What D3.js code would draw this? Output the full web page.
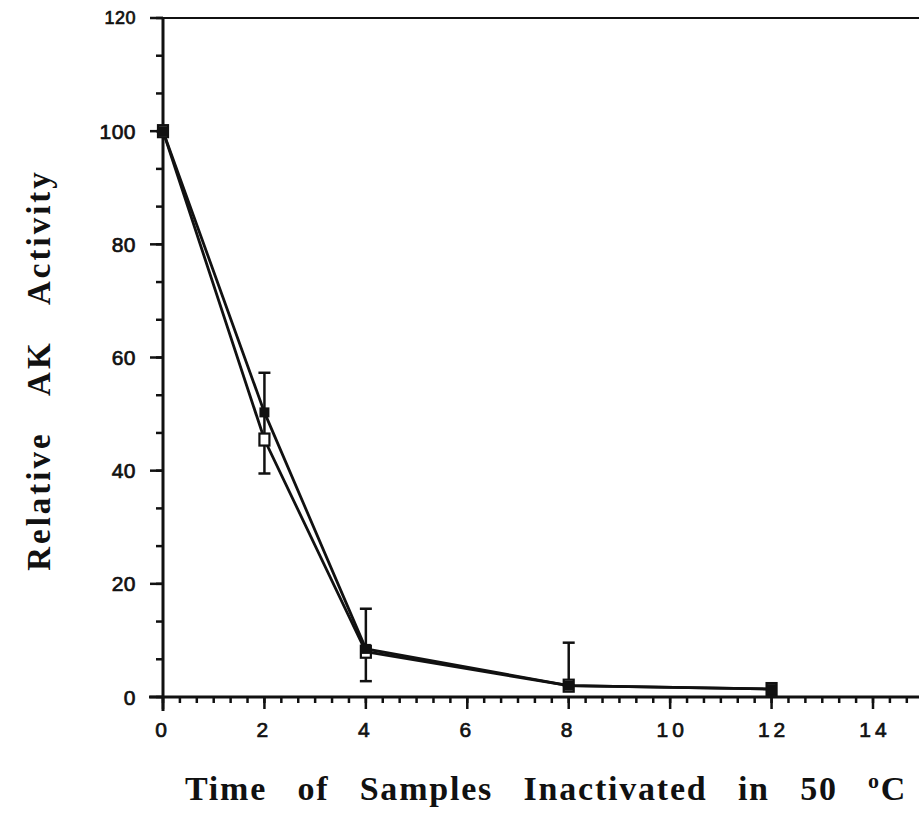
<!DOCTYPE html>
<html>
<head>
<meta charset="utf-8">
<script src="https://cdn.jsdelivr.net/npm/d3@7"></script>
<style>
  body { margin: 0; background: #fff; }
  svg { display: block; }
</style>
</head>
<body>
<div id="chart"></div>
<script>

// data
var times = [0, 2, 4, 8, 12];
var filledSeries = [100, 50.3, 8.5, 2, 1.4];
var openSeries = [100, 45.5, 8, 2, 1.4];

var errTimes = [2, 4, 8];
var errLow = [39.5, 2.8, 2];
var errHigh = [57.3, 15.6, 9.6];

var xTicks = [0, 2, 4, 6, 8, 10, 12, 14];
var yTicks = [0, 20, 40, 60, 80, 100, 120];

var width = 919,
    height = 826;

var svg = d3.select('#chart').append('svg')
    .attr('width', width)
    .attr('height', height);

// scales
var x = d3.scaleLinear()
    .domain([0, 14])
    .range([163, 873]);

var y = d3.scaleLinear()
    .domain([0, 120])
    .range([697, 18]);

var xEnd = width;

// minor ticks
var xMinor = d3.range(0, 14.9, 1 / 3);
var yMinor = d3.range(0, 120.01, 20 / 3);

var axisColour = '#111';

// top frame line
svg.append('line')
    .attr('x1', x(0) - 1).attr('x2', xEnd)
    .attr('y1', y(120)).attr('y2', y(120))
    .attr('stroke', axisColour)
    .attr('stroke-width', 2);

// x axis
var xAxis = svg.append('g')
    .attr('transform', 'translate(0,' + y(0) + ')');

xAxis.append('line')
    .attr('x1', x(0) - 14).attr('x2', xEnd)
    .attr('stroke', axisColour)
    .attr('stroke-width', 3);

xAxis.selectAll('.minor')
  .data(xMinor)
  .enter().append('line')
    .attr('class', 'minor')
    .attr('x1', function(d) { return x(d); })
    .attr('x2', function(d) { return x(d); })
    .attr('y1', 0).attr('y2', 6)
    .attr('stroke', axisColour)
    .attr('stroke-width', 2.5);

xAxis.selectAll('.major')
  .data(xTicks)
  .enter().append('line')
    .attr('class', 'major')
    .attr('x1', function(d) { return x(d); })
    .attr('x2', function(d) { return x(d); })
    .attr('y1', 0).attr('y2', 12)
    .attr('stroke', axisColour)
    .attr('stroke-width', 2.5);

xAxis.selectAll('.lab')
  .data(xTicks)
  .enter().append('text')
    .attr('class', 'lab')
    .attr('x', function(d) { return x(d) + (d >= 10 ? 2 : 0); })
    .attr('y', 40)
    .attr('text-anchor', 'middle')
    .attr('font-family', 'Liberation Sans, Arial, sans-serif')
    .attr('font-size', 21)
    .attr('letter-spacing', 4)
    .attr('fill', '#111')
    .attr('stroke', '#111')
    .attr('stroke-width', 0.7)
    .text(function(d) { return d; });

// y axis
var yAxis = svg.append('g')
    .attr('transform', 'translate(' + x(0) + ',0)');

yAxis.append('line')
    .attr('y1', y(0) + 14).attr('y2', y(120))
    .attr('stroke', axisColour)
    .attr('stroke-width', 3);

yAxis.selectAll('.minor')
  .data(yMinor)
  .enter().append('line')
    .attr('class', 'minor')
    .attr('y1', function(d) { return y(d); })
    .attr('y2', function(d) { return y(d); })
    .attr('x1', 0).attr('x2', -7)
    .attr('stroke', axisColour)
    .attr('stroke-width', 2.5);

yAxis.selectAll('.major')
  .data(yTicks)
  .enter().append('line')
    .attr('class', 'major')
    .attr('y1', function(d) { return y(d); })
    .attr('y2', function(d) { return y(d); })
    .attr('x1', 0).attr('x2', -13)
    .attr('stroke', axisColour)
    .attr('stroke-width', 2.5);

yAxis.selectAll('.lab')
  .data(yTicks)
  .enter().append('text')
    .attr('class', 'lab')
    .attr('x', -27)
    .attr('y', function(d) { return y(d); })
    .attr('dy', '0.36em')
    .attr('text-anchor', 'end')
    .attr('font-family', 'Liberation Sans, Arial, sans-serif')
    .attr('font-size', function(d) { return d === 120 ? 18 : 21; })
    .attr('letter-spacing', 0.5)
    .attr('fill', '#111')
    .attr('stroke', '#111')
    .attr('stroke-width', 0.7)
    .text(function(d) { return d; });

// error bars
var errG = svg.append('g');
errTimes.forEach(function(t, i) {
  var cx = x(t);
  errG.append('line')
      .attr('x1', cx).attr('x2', cx)
      .attr('y1', y(errLow[i])).attr('y2', y(errHigh[i]))
      .attr('stroke', '#111').attr('stroke-width', 2.5);
  [errLow[i], errHigh[i]].forEach(function(v) {
    errG.append('line')
        .attr('x1', cx - 6).attr('x2', cx + 6)
        .attr('y1', y(v)).attr('y2', y(v))
        .attr('stroke', '#111').attr('stroke-width', 2.5);
  });
});

// lines
var line = d3.line()
    .x(function(d) { return x(d[0]); })
    .y(function(d) { return y(d[1]); });

var openData = d3.zip(times, openSeries);
var filledData = d3.zip(times, filledSeries);

svg.append('path')
    .datum(openData)
    .attr('d', line)
    .attr('fill', 'none')
    .attr('stroke', '#111')
    .attr('stroke-width', 2.8);

svg.append('path')
    .datum(filledData)
    .attr('d', line)
    .attr('fill', 'none')
    .attr('stroke', '#111')
    .attr('stroke-width', 2.8);

// markers
svg.selectAll('.open')
  .data(openData)
  .enter().append('rect')
    .attr('class', 'open')
    .attr('x', function(d) { return x(d[0]) - 5; })
    .attr('y', function(d) { return y(d[1]) - 6; })
    .attr('width', 10).attr('height', 12)
    .attr('fill', '#fff')
    .attr('stroke', '#111')
    .attr('stroke-width', 2.2);

svg.selectAll('.filled')
  .data(filledData)
  .enter().append('rect')
    .attr('class', 'filled')
    .attr('x', function(d) { return x(d[0]) - 5; })
    .attr('y', function(d) { return y(d[1]) - 5; })
    .attr('width', 10).attr('height', 10)
    .attr('fill', '#111');

// axis titles
svg.append('text')
    .attr('transform', 'translate(50,370) rotate(-90)')
    .attr('text-anchor', 'middle')
    .attr('font-family', 'Liberation Serif, Times New Roman, serif')
    .attr('font-weight', 'bold')
    .attr('font-size', 33)
    .attr('letter-spacing', 3)
    .attr('word-spacing', 26)
    .attr('fill', '#111')
    .text('Relative AK Activity');

var xTitle = svg.append('text')
    .attr('x', 185)
    .attr('y', 800)
    .attr('font-family', 'Liberation Serif, Times New Roman, serif')
    .attr('font-weight', 'bold')
    .attr('font-size', 34)
    .attr('letter-spacing', 1.8)
    .attr('word-spacing', 20)
    .attr('fill', '#111');

xTitle.append('tspan').text('Time of Samples Inactivated in 50 ');
xTitle.append('tspan')
    .attr('font-size', 22)
    .attr('dy', -12)
    .text('o');
xTitle.append('tspan')
    .attr('dy', 12)
    .text('C');

</script>
</body>
</html>
